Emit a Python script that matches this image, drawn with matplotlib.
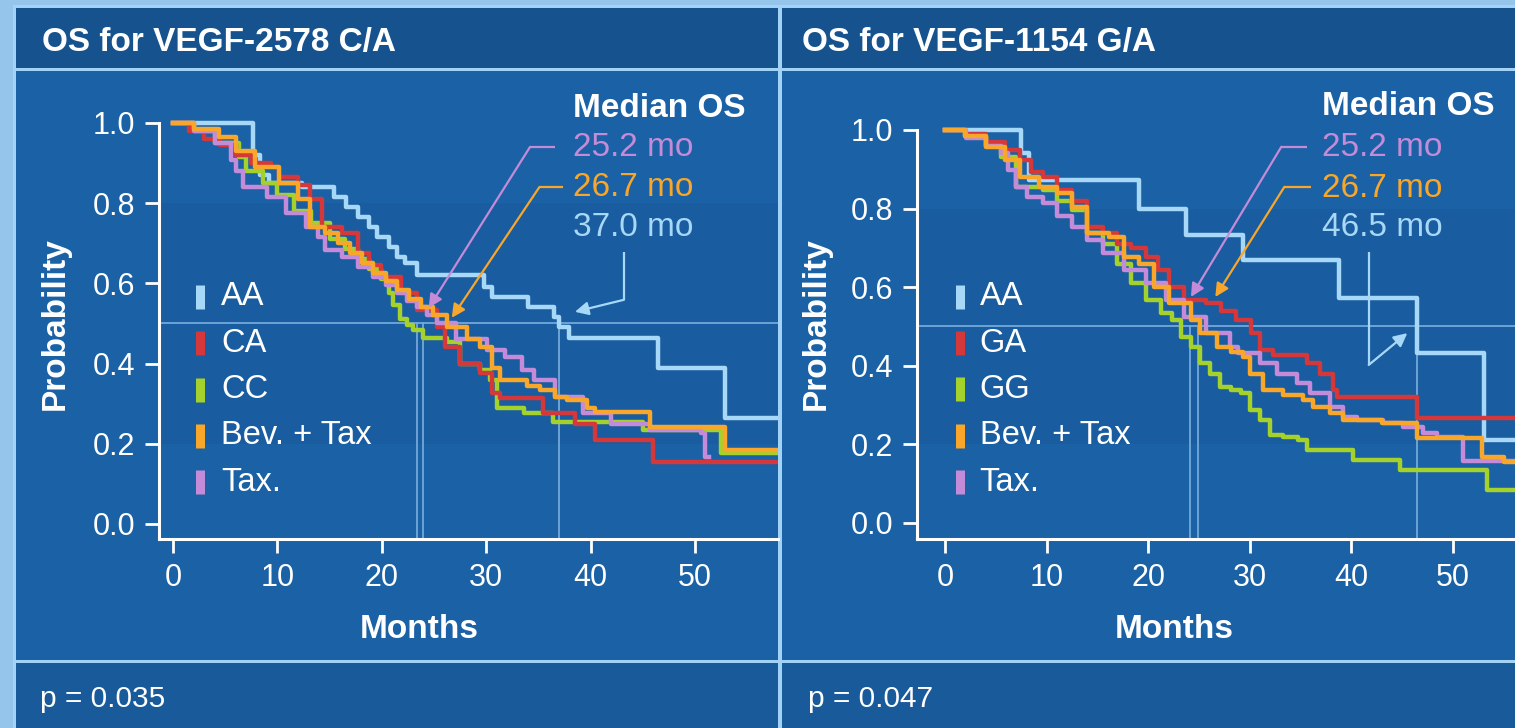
import matplotlib.pyplot as plt
from matplotlib.patches import Rectangle

plt.rcParams['font.family'] = ['Liberation Sans', 'DejaVu Sans']

W, H = 1515, 728

# ---- VEGF-2578 C/A : Kaplan-Meier step data (months, survival) ----
aa_l_t = [0, 7.7, 8.3, 9.2, 12.4, 15.4, 16.6, 17.7, 18.8, 19.5, 20.7, 21.5, 22.2, 23.4,
          29.8, 30.6, 34.0, 36.5, 37.0, 37.9, 46.5, 52.9]
aa_l_s = [1.0, 0.92, 0.87, 0.85, 0.84, 0.816, 0.79, 0.766, 0.74, 0.716, 0.69, 0.666, 0.65, 0.62,
          0.59, 0.566, 0.54, 0.516, 0.49, 0.464, 0.39, 0.265]

ca_t = [0, 1.5, 3.0, 4.5, 6.0, 7.5, 9.4, 10.2, 12.0, 13.1, 14.3, 16.2, 17.7, 18.8, 19.9, 21.8,
        23.4, 25.3, 26.1, 27.5, 29.4, 30.6, 31.3, 35.4, 38.5, 40.4, 46.0]
ca_s = [1.0, 0.98, 0.96, 0.945, 0.92, 0.90, 0.89, 0.865, 0.845, 0.81, 0.74, 0.725, 0.675, 0.645,
        0.616, 0.575, 0.534, 0.49, 0.44, 0.40, 0.376, 0.326, 0.314, 0.277, 0.25, 0.21, 0.155]

cc_t = [0, 2.0, 4.0, 6.3, 7.0, 8.6, 10.0, 11.6, 13.2, 15.0, 16.5, 17.7, 18.8, 19.9, 20.7, 21.1,
        21.7, 22.4, 23.0, 23.9, 26.2, 27.5, 29.4, 30.4, 31.0, 33.6, 36.4, 45.0, 52.5]
cc_s = [1.0, 0.98, 0.95, 0.915, 0.88, 0.85, 0.82, 0.78, 0.75, 0.71, 0.685, 0.66, 0.635, 0.61,
        0.575, 0.546, 0.51, 0.496, 0.484, 0.464, 0.454, 0.40, 0.384, 0.36, 0.29, 0.277, 0.254,
        0.234, 0.177]

bev_l_t = [0, 2.0, 4.4, 6.0, 7.9, 10.2, 12.0, 13.1, 14.6, 15.8, 17.0, 18.1, 19.2, 20.4, 21.5,
           22.6, 23.8, 24.9, 26.2, 28.2, 29.4, 30.6, 31.3, 33.9, 35.2, 36.6, 37.7, 39.7, 40.4,
           45.7, 52.9]
bev_l_s = [1.0, 0.985, 0.965, 0.93, 0.89, 0.85, 0.81, 0.74, 0.725, 0.70, 0.675, 0.65, 0.625,
           0.605, 0.584, 0.56, 0.54, 0.52, 0.49, 0.46, 0.44, 0.39, 0.36, 0.345, 0.334, 0.317,
           0.31, 0.29, 0.28, 0.242, 0.185]

tax_l_t = [0, 2.0, 4.0, 5.6, 6.0, 6.7, 9.0, 10.8, 12.7, 13.9, 14.6, 16.2, 17.7, 19.2, 20.4,
           21.5, 22.4, 23.4, 24.3, 25.3, 27.1, 30.1, 31.8, 33.4, 34.6, 36.6, 39.3, 42.0, 45.7,
           50.6, 51.0]
tax_l_s = [1.0, 0.98, 0.95, 0.908, 0.88, 0.84, 0.815, 0.775, 0.74, 0.716, 0.683, 0.666, 0.64,
           0.616, 0.595, 0.575, 0.555, 0.54, 0.52, 0.50, 0.46, 0.434, 0.417, 0.384, 0.36, 0.317,
           0.277, 0.25, 0.234, 0.227, 0.167]

# ---- VEGF-1154 G/A ----
aa_r_t = [0, 7.5, 8.3, 19.1, 23.7, 29.3, 38.8, 46.5, 53.0]
aa_r_s = [1.0, 0.94, 0.873, 0.80, 0.733, 0.67, 0.573, 0.433, 0.211]

ga_t = [0, 2.0, 4.0, 5.9, 7.4, 8.5, 9.6, 11.0, 12.5, 14.0, 15.5, 16.9, 18.3, 19.8, 21.0, 22.0,
        23.5, 25.7, 27.2, 28.6, 30.1, 31.0, 32.3, 35.6, 36.9, 38.2, 38.6, 46.5]
ga_s = [1.0, 0.99, 0.97, 0.95, 0.924, 0.893, 0.88, 0.847, 0.82, 0.753, 0.737, 0.71, 0.70, 0.677,
        0.644, 0.60, 0.567, 0.56, 0.54, 0.517, 0.483, 0.44, 0.427, 0.407, 0.38, 0.338, 0.32, 0.267]

gg_t = [0, 2.0, 4.0, 5.5, 7.0, 9.6, 11.0, 12.5, 14.0, 15.5, 16.9, 18.3, 19.8, 21.3, 22.3, 23.2,
        24.2, 25.1, 26.1, 27.1, 28.1, 29.1, 30.0, 31.0, 32.0, 33.3, 34.7, 35.6, 40.2, 44.8, 53.3]
gg_s = [1.0, 0.985, 0.96, 0.93, 0.855, 0.847, 0.82, 0.796, 0.737, 0.71, 0.66, 0.61, 0.567, 0.534,
        0.517, 0.474, 0.448, 0.407, 0.38, 0.346, 0.338, 0.33, 0.288, 0.262, 0.224, 0.219, 0.211,
        0.186, 0.16, 0.135, 0.084]

bev_r_t = [0, 2.0, 4.0, 5.9, 7.4, 9.2, 11.0, 12.5, 14.0, 16.1, 17.6, 19.1, 20.6, 22.0, 24.2,
           25.1, 26.8, 28.1, 29.3, 30.0, 31.3, 33.3, 35.2, 36.2, 37.9, 39.2, 43.0, 46.5, 52.9, 55.0]
bev_r_s = [1.0, 0.985, 0.957, 0.924, 0.88, 0.855, 0.84, 0.804, 0.737, 0.728, 0.677, 0.66, 0.60,
           0.56, 0.517, 0.483, 0.448, 0.435, 0.422, 0.38, 0.338, 0.326, 0.313, 0.296, 0.28, 0.262,
           0.254, 0.215, 0.168, 0.155]

tax_r_t = [0, 2.1, 4.0, 5.5, 6.2, 7.0, 8.1, 9.6, 11.0, 12.5, 14.0, 15.5, 17.6, 19.8, 21.7, 23.5,
           25.7, 28.0, 28.8, 31.0, 32.7, 34.6, 35.9, 37.9, 39.2, 40.5, 43.1, 45.1, 47.0, 48.4, 51.0]
tax_r_s = [1.0, 0.98, 0.96, 0.94, 0.898, 0.855, 0.83, 0.814, 0.78, 0.753, 0.72, 0.687, 0.644,
           0.61, 0.567, 0.524, 0.483, 0.448, 0.432, 0.407, 0.38, 0.356, 0.33, 0.296, 0.27, 0.262,
           0.254, 0.244, 0.229, 0.219, 0.158]

# medians marked with thin drop lines
medians_l = [23.4, 23.9, 37.0]
medians_r = [24.1, 24.9, 46.5]
median_text_l = ['25.2 mo', '26.7 mo', '37.0 mo']
median_text_r = ['25.2 mo', '26.7 mo', '46.5 mo']

C_AA = '#a8d8f8'
C_RED = '#d4383a'
C_GREEN = '#a4d12c'
C_ORANGE = '#f8a72a'
C_LILAC = '#c48bd8'
C_LINE = '#72a9da'

BG_OUT = '#95c5ea'
BG_PANEL = '#1b61a5'
BG_HEAD = '#16538e'
BG_FOOT = '#195a9b'
C_RULE = '#a2d2f5'

fig = plt.figure(figsize=(W / 100, H / 100), dpi=100)
fig.patch.set_facecolor(BG_OUT)


def px_rect(x0, y0, x1, y1, color):
    fig.add_artist(Rectangle((x0 / W, 1 - y1 / H), (x1 - x0) / W, (y1 - y0) / H,
                             transform=fig.transFigure, facecolor=color,
                             edgecolor='none', zorder=-5))


# panel frame: light rules with dark boxes inside
px_rect(13, 5, W, H, C_RULE)
for x0, x1 in [(16, 778), (782, W)]:
    px_rect(x0, 8, x1, 68, BG_HEAD)
    px_rect(x0, 71, x1, 660, BG_PANEL)
    px_rect(x0, 663, x1, H, BG_FOOT)

fig.text(42 / W, 1 - 42 / H, 'OS for VEGF-2578 C/A', color='white', fontsize=24,
         fontweight='bold', va='center')
fig.text(802 / W, 1 - 42 / H, 'OS for VEGF-1154 G/A', color='white', fontsize=24,
         fontweight='bold', va='center')
fig.text(40 / W, 1 - 699 / H, 'p = 0.035', color='white', fontsize=21.5, va='center')
fig.text(808 / W, 1 - 699 / H, 'p = 0.047', color='white', fontsize=21.5, va='center')


def setup_axes(rect, xlim, ylim, xlab_x):
    ax = fig.add_axes(rect)
    ax.set_facecolor('none')
    ax.set_xlim(*xlim)
    ax.set_ylim(*ylim)
    for s in ['top', 'right']:
        ax.spines[s].set_visible(False)
    for s in ['left', 'bottom']:
        ax.spines[s].set_color('white')
        ax.spines[s].set_linewidth(2.2)
    ax.spines['left'].set_bounds(ylim[0], 1.0)
    ax.set_xticks([0, 10, 20, 30, 40, 50])
    ax.set_yticks([0, 0.2, 0.4, 0.6, 0.8, 1.0])
    ax.set_yticklabels(['0.0', '0.2', '0.4', '0.6', '0.8', '1.0'])
    ax.tick_params(colors='white', labelsize=22, length=10, width=2, pad=7)
    ax.set_xlabel('Months', color='white', fontsize=24, fontweight='bold')
    ax.set_ylabel('Probability', color='white', fontsize=24, fontweight='bold')
    ax.xaxis.set_label_coords(xlab_x, -0.17)
    ax.yaxis.set_label_coords(-0.142, 0.49)
    ax.axhspan(0.2, 0.8, color='#0d3f78', alpha=0.12, lw=0, zorder=0)
    return ax


def km(ax, t, s, color, t_end=60):
    ax.step(list(t) + [t_end], list(s) + [s[-1]], where='post', color=color, lw=3.2, zorder=3)


def legend(ax, labels, colors, x_mark, x_text, y_top, dy):
    for i, (lab, col) in enumerate(zip(labels, colors)):
        y = y_top - i * dy
        ax.plot([x_mark], [y], marker='|', markersize=17, markeredgewidth=6.5, color=col,
                linestyle='none', zorder=4)
        ax.text(x_text, y, lab, color='white', fontsize=23.5, va='center', zorder=4)


def medians(ax, xs, x0):
    ax.plot([x0, 70], [0.5, 0.5], color=C_LINE, lw=1.3, zorder=1)
    for m in xs:
        ax.plot([m, m], [-0.1, 0.5], color=C_LINE, lw=1.3, zorder=1)


def median_box(ax, x, ys, texts, colors):
    ax.text(x, ys[0], 'Median OS', color='white', fontsize=24, fontweight='bold',
            va='center', zorder=4)
    for y, t, c in zip(ys[1:], texts, colors):
        ax.text(x, y, t, color=c, fontsize=24, va='center', zorder=4)


def leader(ax, pts, color):
    xs = [p[0] for p in pts[:-1]]
    ys = [p[1] for p in pts[:-1]]
    ax.plot(xs, ys, color=color, lw=1.6, zorder=4, solid_capstyle='butt')
    ax.annotate('', xy=pts[-1], xytext=pts[-2],
                arrowprops=dict(arrowstyle='-|>', color=color, lw=1.6, mutation_scale=20,
                                shrinkA=0, shrinkB=0), zorder=4)


# ---- left panel ----
axl = setup_axes([159 / W, 189 / H, 619 / W, 439 / H], (-1.34, 57.95), (-0.0374, 1.057), 0.42)
medians(axl, medians_l, -1.34)
km(axl, aa_l_t, aa_l_s, C_AA)
km(axl, cc_t, cc_s, C_GREEN)
km(axl, ca_t, ca_s, C_RED)
km(axl, tax_l_t, tax_l_s, C_LILAC, t_end=51.3)
km(axl, bev_l_t, bev_l_s, C_ORANGE)
legend(axl, ['AA', 'CA', 'CC', 'Bev. + Tax', 'Tax.'],
       [C_AA, C_RED, C_GREEN, C_ORANGE, C_LILAC], 2.6, 4.6, 0.566, 0.1155)
median_box(axl, 38.3, [1.037, 0.938, 0.838, 0.738], median_text_l,
           [C_LILAC, C_ORANGE, C_AA])
leader(axl, [(36.6, 0.94), (34.2, 0.94), (24.5, 0.539)], C_LILAC)
leader(axl, [(37.4, 0.84), (35.1, 0.84), (26.7, 0.514)], C_ORANGE)
leader(axl, [(43.2, 0.678), (43.2, 0.559), (38.5, 0.529)], C_AA)

# ---- right panel ----
axr = setup_axes([917 / W, 189 / H, 598 / W, 439 / H], (-2.76, 56.1), (-0.0407, 1.076), 0.43)
medians(axr, medians_r, -2.76)
km(axr, aa_r_t, aa_r_s, C_AA)
km(axr, gg_t, gg_s, C_GREEN)
km(axr, ga_t, ga_s, C_RED)
km(axr, tax_r_t, tax_r_s, C_LILAC)
km(axr, bev_r_t, bev_r_s, C_ORANGE)
legend(axr, ['AA', 'GA', 'GG', 'Bev. + Tax', 'Tax.'],
       [C_AA, C_RED, C_GREEN, C_ORANGE, C_LILAC], 1.5, 3.4, 0.575, 0.1177)
median_box(axr, 37.1, [1.059, 0.954, 0.852, 0.751], median_text_r,
           [C_LILAC, C_ORANGE, C_AA])
leader(axr, [(35.6, 0.957), (33.1, 0.957), (24.2, 0.575)], C_LILAC)
leader(axr, [(36.0, 0.855), (33.4, 0.855), (26.6, 0.575)], C_ORANGE)
leader(axr, [(41.7, 0.69), (41.7, 0.402), (45.5, 0.483)], C_AA)

fig.savefig('out.png', dpi=100, facecolor=fig.get_facecolor())
